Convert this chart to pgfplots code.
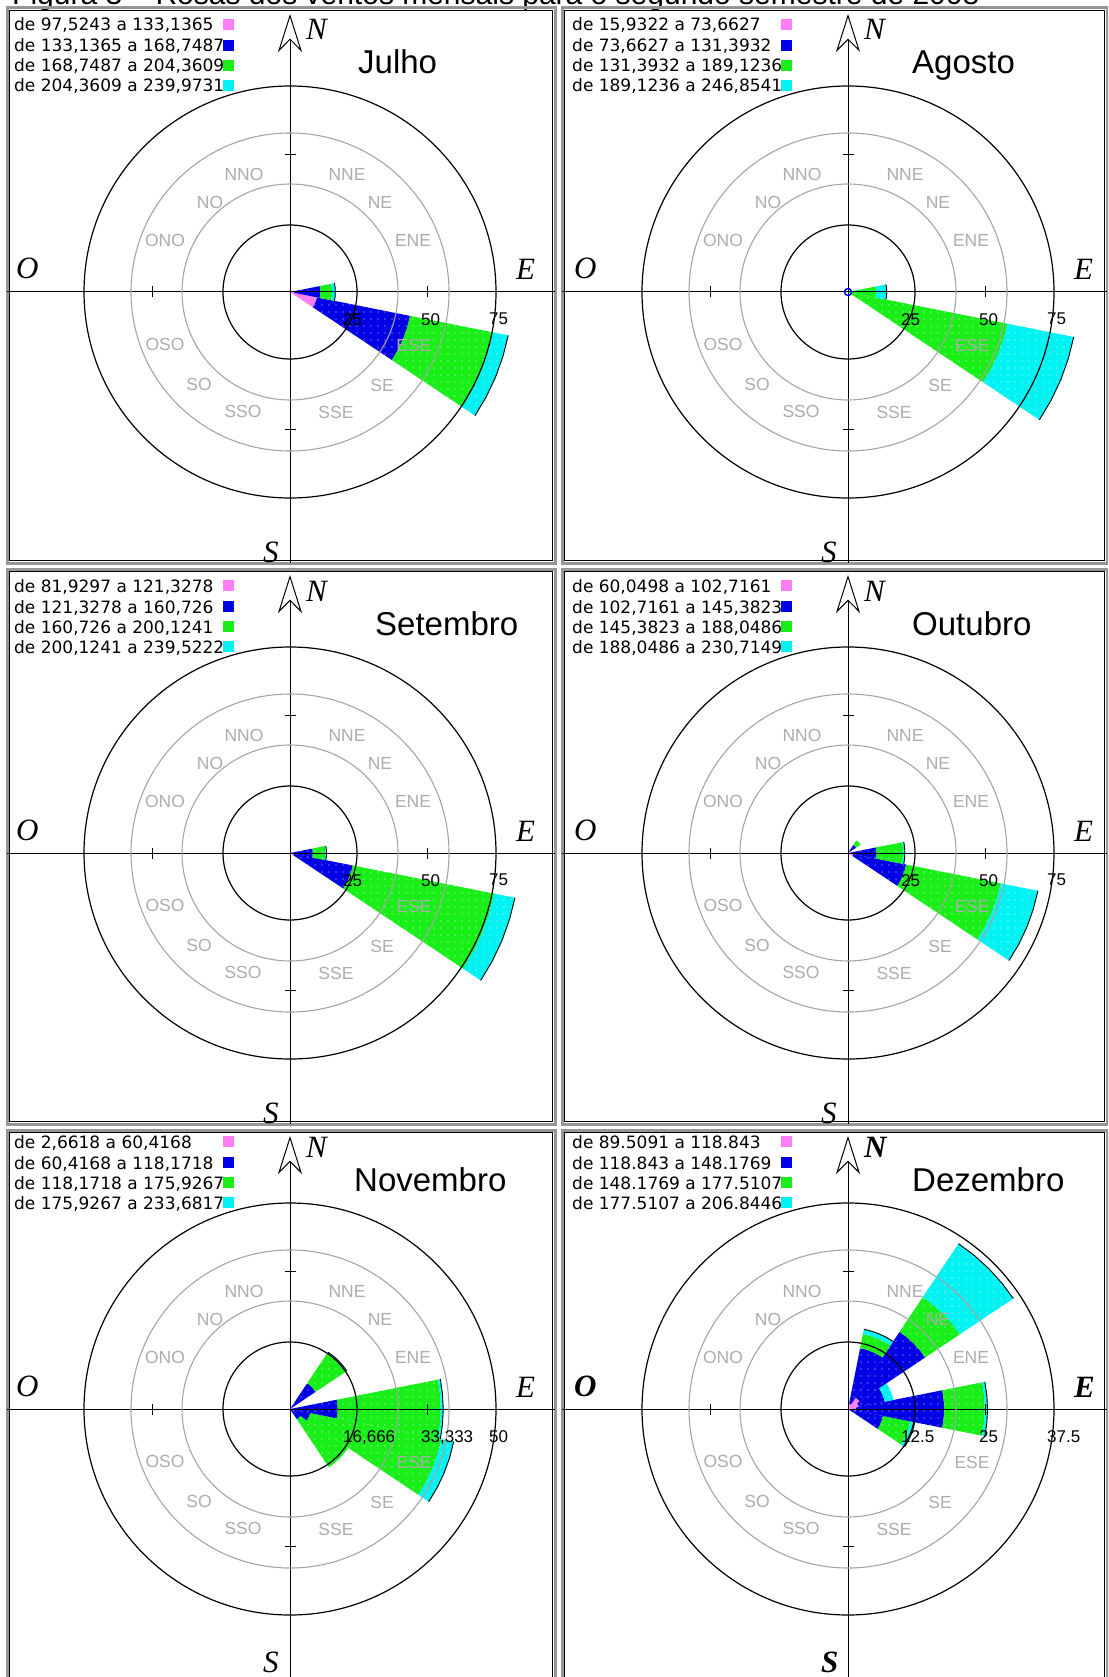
\documentclass[border=0pt]{standalone}
\usepackage{fontspec}
\setmainfont{Liberation Sans}
\newfontfamily\legfont{DejaVu Sans}
\newfontfamily\compfont{Liberation Serif}
\usepackage{pgfplots}
\pgfplotsset{compat=1.18}
\usepgfplotslibrary{polar}
\usetikzlibrary{arrows.meta,patterns.meta}

\definecolor{rpink}{RGB}{255,125,245}
\definecolor{rblue}{RGB}{0,0,230}
\definecolor{rgreen}{RGB}{25,238,25}
\definecolor{rcyan}{RGB}{0,242,242}
\definecolor{labgray}{RGB}{172,172,172}
\definecolor{ringgray}{RGB}{165,165,165}
\definecolor{framegray}{RGB}{150,150,150}
\definecolor{linkblue}{RGB}{50,70,190}

\newcommand\legsize{\fontsize{17}{20}\legfont}
\newcommand\dirfont{\fontsize{17.5}{18}\selectfont}
\newcommand\ringfont{\fontsize{17}{18}\selectfont}
\newcommand\titfont{\fontsize{33}{33}\selectfont}
\newcommand\cfont{\fontsize{31}{31}\compfont\itshape}

% one sector of the rose: colour, direction (deg), inner radius, outer radius
\newcommand\sector[4]{%
  \pgfmathsetmacro\sa{#2-11.25}\pgfmathsetmacro\sb{#2-5.625}%
  \pgfmathsetmacro\sc{#2+5.625}\pgfmathsetmacro\sd{#2+11.25}%
  \edef\tmp{\noexpand\addplot[fill=#1, draw=none, data cs=polar,
      postaction={pattern={Dots[distance=7pt, radius=0.55pt]}, pattern color=white!85!#1}] coordinates
    {(\sa,#3) (\sb,#3) (#2,#3) (\sc,#3) (\sd,#3) (\sd,#4) (\sc,#4) (#2,#4) (\sb,#4) (\sa,#4)};}%
  \tmp}
% outer edge of a sector
\newcommand\rim[2]{%
  \pgfmathsetmacro\sa{#1-11.25}\pgfmathsetmacro\sb{#1-5.625}%
  \pgfmathsetmacro\sc{#1+5.625}\pgfmathsetmacro\sd{#1+11.25}%
  \edef\tmp{\noexpand\addplot[black, line width=0.9pt, data cs=polar] coordinates
    {(\sa,#2) (\sb,#2) (#1,#2) (\sc,#2) (\sd,#2)};}%
  \tmp}

\pgfplotsset{rose/.style={
  anchor=origin, axis lines=middle, axis on top, clip=false,
  axis line style={black, line width=1pt},
  every inner x axis line/.append style={-},
  every inner y axis line/.append style={-{Stealth[open, length=38pt, width=24pt, inset=12pt, line width=1pt]}, shorten >=6pt},
  x axis line style={-},
  y axis line style={-{Stealth[open, length=38pt, width=24pt, inset=12pt, line width=1pt]}, shorten >=6pt},
  xticklabels={}, yticklabels={},
  tick align=center, major tick length=11pt, tick style={black, line width=1pt},
}}

\newcommand\roseframe[4]{%
  \draw[framegray, line width=3pt] (#1pt,-#2pt) rectangle (#3pt,-#4pt);
  \draw[black, line width=1.3pt] ({#1pt+2.6pt},{-#2pt-2.6pt}) rectangle ({#3pt-2.6pt},{-#4pt+2.6pt});}

% centre x, centre y, three ring labels, font switch, y of the S label
\newcommand\rosedeco[7]{%
\begin{scope}[x=1pt,y=1pt,shift={(#1,-#2)}]
  \draw[ringgray, line width=1.1pt] (0,0) circle[radius=108] (0,0) circle[radius=159];
  \draw[black, line width=1.2pt] (0,0) circle[radius=67] (0,0) circle[radius=206];
  \begin{scope}[every node/.style={inner sep=0, text=labgray, font=\dirfont}]
    \node at (-46,118) {NNO}; \node at (57,118) {NNE};
    \node at (-80,90) {NO};   \node at (90,90) {NE};
    \node at (-125,52) {ONO}; \node at (123,52) {ENE};
    \node at (-125,-52) {OSO};\node at (124,-53) {ESE};
    \node at (-91,-92) {SO};  \node at (92,-93) {SE};
    \node at (-47,-119) {SSO};\node at (46,-120) {SSE};
  \end{scope}
  \begin{scope}[every node/.style={inner sep=0, anchor=north west, font=\ringfont}]
    \node at (53,-21) {#3}; \node at (131,-21) {#4}; \node at (199,-21) {#5};
  \end{scope}
  \begin{scope}[every node/.style={inner sep=0, anchor=base west, font={\cfont#6}}]
    \node at (16,252) {N}; \node at (226,12) {E};
    \node at (-274,13) {O}; \node at (-27,#7) {S};
  \end{scope}
\end{scope}}

\newcommand\roselegend[6]{%
\begin{scope}[x=1pt,y=1pt,shift={(#1,-#2)}]
  \begin{scope}[every node/.style={inner sep=0, anchor=base west, font=\legsize}]
    \node at (-276,261) {#3}; \node at (-276,240) {#4};
    \node at (-276,220) {#5}; \node at (-276,200) {#6};
  \end{scope}
  \fill[rpink] (-67,262) rectangle (-56,273);
  \fill[rblue] (-67,241) rectangle (-56,252);
  \fill[rgreen] (-67,221) rectangle (-56,232);
  \fill[rcyan] (-67,201) rectangle (-56,212);
\end{scope}}

\newcommand\rosetitle[4]{%
  \node[inner sep=0, anchor=base west, font=\titfont] at ({#1pt+#3pt},{-#2pt+218pt}) {#4};}

\begin{document}
\begin{tikzpicture}
\begin{scope}
\clip (0,0) rectangle (1108pt,-1677pt);

% caption of the page, only its lower edge shows
\node[anchor=base west, inner sep=0, font=\fontsize{30}{30}\selectfont] at (12pt,-5pt)
  {Figura 3 -- Rosas dos ventos mensais para o segundo semestre de 2008};
\draw[linkblue, line width=1.6pt] (10pt,-6.5pt) -- (258pt,-6.5pt);

\roseframe{7}{8}{555}{563}
\roseframe{562}{8}{1107}{563}
\roseframe{7}{569}{555}{1124}
\roseframe{562}{569}{1107}{1124}
\roseframe{7}{1130}{555}{1690}
\roseframe{562}{1130}{1107}{1690}

% ---------- Julho
\begin{axis}[rose, at={(290pt,-292pt)}, x=2.746667pt, y=2.746667pt,
  xmin=-103.03, xmax=96.48, ymin=-98.66, ymax=103.40, xtick={-50,50}, ytick={-50,50}]
  \sector{rpink}{-22.5}{0}{10}
  \sector{rblue}{-22.5}{10}{44.6}
  \sector{rgreen}{-22.5}{44.6}{75.3}
  \sector{rcyan}{-22.5}{75.3}{81}
  \rim{-22.5}{81}
  \sector{rpink}{0}{0}{1.5}
  \sector{rblue}{0}{1.5}{11}
  \sector{rgreen}{0}{11}{15.3}
  \sector{rcyan}{0}{15.3}{16.5}
  \rim{0}{16.5}
\end{axis}

% ---------- Agosto
\begin{axis}[rose, at={(848pt,-292pt)}, x=2.746667pt, y=2.746667pt,
  xmin=-104.13, xmax=94.30, ymin=-98.66, ymax=103.40, xtick={-50,50}, ytick={-50,50}]
  \sector{rgreen}{-22.5}{0}{59.2}
  \sector{rcyan}{-22.5}{59.2}{83.8}
  \rim{-22.5}{83.8}
  \sector{rgreen}{0}{0}{10.3}
  \sector{rcyan}{0}{10.3}{14.1}
  \rim{0}{14.1}
  \addplot[only marks, mark=o, mark size=3.5pt, rblue, line width=1.5pt] coordinates {(0,0)};
\end{axis}

% ---------- Setembro
\begin{axis}[rose, at={(290pt,-853pt)}, x=2.746667pt, y=2.746667pt,
  xmin=-103.03, xmax=96.48, ymin=-98.66, ymax=103.40, xtick={-50,50}, ytick={-50,50}]
  \sector{rpink}{-22.5}{0}{1.5}
  \sector{rblue}{-22.5}{1.5}{23.3}
  \sector{rgreen}{-22.5}{23.3}{75.8}
  \sector{rcyan}{-22.5}{75.8}{83.5}
  \rim{-22.5}{83.5}
  \sector{rblue}{0}{0}{8.3}
  \sector{rgreen}{0}{8.3}{12.9}
  \sector{rcyan}{0}{12.9}{13.3}
  \rim{0}{13.3}
\end{axis}

% ---------- Outubro
\begin{axis}[rose, at={(848pt,-853pt)}, x=2.746667pt, y=2.746667pt,
  xmin=-104.13, xmax=94.30, ymin=-98.66, ymax=103.40, xtick={-50,50}, ytick={-50,50}]
  \sector{rpink}{-22.5}{0}{2}
  \sector{rblue}{-22.5}{2}{21.6}
  \sector{rgreen}{-22.5}{21.6}{56.7}
  \sector{rcyan}{-22.5}{56.7}{70.5}
  \rim{-22.5}{70.5}
  \sector{rpink}{0}{0}{1}
  \sector{rblue}{0}{1}{10.4}
  \sector{rgreen}{0}{10.4}{20.1}
  \sector{rcyan}{0}{20.1}{20.7}
  \rim{0}{20.7}
  \sector{rblue}{45}{0}{3.5}
  \sector{rgreen}{45}{3.5}{5.5}
\end{axis}

% ---------- Novembro
\begin{axis}[rose, at={(290pt,-1409pt)}, x=4.12pt, y=4.12pt,
  xmin=-68.69, xmax=64.32, ymin=-65.05, ymax=67.72, xtick={-33.333,33.333}, ytick={-33.333,33.333}]
  \sector{rblue}{-45}{0}{3}
  \sector{rgreen}{-45}{3}{17}
  \sector{rblue}{-22.5}{0}{5}
  \sector{rgreen}{-22.5}{5}{37.5}
  \sector{rcyan}{-22.5}{37.5}{40.5}
  \rim{-22.5}{40.5}
  \sector{rblue}{0}{0}{11.6}
  \sector{rgreen}{0}{11.6}{36.6}
  \sector{rcyan}{0}{36.6}{37.2}
  \rim{0}{37.2}
  \sector{rblue}{45}{0}{7.5}
  \sector{rgreen}{45}{7.5}{16.3}
  \sector{rcyan}{45}{16.3}{16.6}
  \rim{45}{16.6}
\end{axis}

% ---------- Dezembro
\begin{axis}[rose, at={(848pt,-1409pt)}, x=5.493333pt, y=5.493333pt,
  xmin=-52.06, xmax=47.15, ymin=-48.79, ymax=50.79, xtick={-25,25}, ytick={-25,25}]
  \sector{rblue}{-22.5}{0}{6.5}
  \sector{rgreen}{-22.5}{6.5}{11.6}
  \sector{rcyan}{-22.5}{11.6}{12.4}
  \rim{-22.5}{12.4}
  \sector{rpink}{0}{0}{1.5}
  \sector{rblue}{0}{1.5}{17.5}
  \sector{rgreen}{0}{17.5}{24.9}
  \sector{rcyan}{0}{24.9}{25.4}
  \rim{0}{25.4}
  \sector{rpink}{22.5}{0}{2}
  \sector{rblue}{22.5}{2}{6.8}
  \sector{rcyan}{22.5}{6.8}{8.4}
  \sector{rpink}{45}{0}{2.5}
  \sector{rblue}{45}{2.5}{16.9}
  \sector{rgreen}{45}{16.9}{24.5}
  \sector{rcyan}{45}{24.5}{36.2}
  \rim{45}{36.2}
  \sector{rpink}{67.5}{0}{1}
  \sector{rblue}{67.5}{1}{11.3}
  \sector{rgreen}{67.5}{11.3}{13.9}
  \sector{rcyan}{67.5}{13.9}{14.8}
  \rim{67.5}{14.8}
\end{axis}

\rosedeco{290}{292}{25}{50}{75}{}{-270}
\rosedeco{848}{292}{25}{50}{75}{}{-270}
\rosedeco{290}{853}{25}{50}{75}{}{-270}
\rosedeco{848}{853}{25}{50}{75}{}{-270}
\rosedeco{290}{1409}{16,666}{33,333}{50}{}{-263}
\rosedeco{848}{1409}{12.5}{25}{37.5}{\bfseries}{-263}

\roselegend{290}{292}{de 97,5243 a 133,1365}{de 133,1365 a 168,7487}{de 168,7487 a 204,3609}{de 204,3609 a 239,9731}
\roselegend{848}{292}{de 15,9322 a 73,6627}{de 73,6627 a 131,3932}{de 131,3932 a 189,1236}{de 189,1236 a 246,8541}
\roselegend{290}{853}{de 81,9297 a 121,3278}{de 121,3278 a 160,726}{de 160,726 a 200,1241}{de 200,1241 a 239,5222}
\roselegend{848}{853}{de 60,0498 a 102,7161}{de 102,7161 a 145,3823}{de 145,3823 a 188,0486}{de 188,0486 a 230,7149}
\roselegend{290}{1409}{de 2,6618 a 60,4168}{de 60,4168 a 118,1718}{de 118,1718 a 175,9267}{de 175,9267 a 233,6817}
\roselegend{848}{1409}{de 89.5091 a 118.843}{de 118.843 a 148.1769}{de 148.1769 a 177.5107}{de 177.5107 a 206.8446}

\rosetitle{290}{292}{68}{Julho}
\rosetitle{848}{292}{64}{Agosto}
\rosetitle{290}{853}{85}{Setembro}
\rosetitle{848}{853}{64}{Outubro}
\rosetitle{290}{1409}{64}{Novembro}
\rosetitle{848}{1409}{64}{Dezembro}
\end{scope}
\pgfresetboundingbox
\path[use as bounding box] (0,0) rectangle (1108pt,-1677pt);
\end{tikzpicture}
\end{document}
